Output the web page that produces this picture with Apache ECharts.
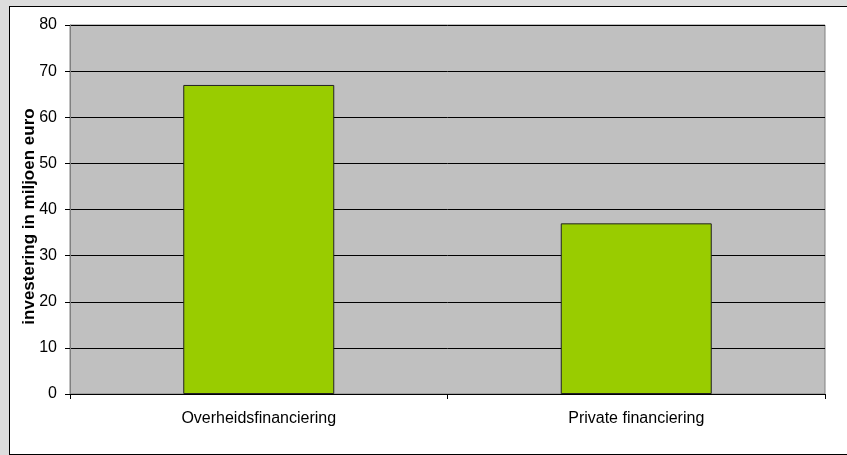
<!DOCTYPE html>
<html>
<head>
<meta charset="utf-8">
<script src="https://cdn.jsdelivr.net/npm/echarts@6/dist/echarts.min.js"></script>
<style>
  html, body { margin: 0; padding: 0; background: #dddddd; }
  #frame { position: absolute; left: 9px; top: 6px; width: 845px; height: 447px;
           background: #ffffff; border: 1px solid #000000; }
  #chart { position: absolute; left: 0; top: 0; width: 847px; height: 455px; }
</style>
</head>
<body>
<div id="frame"></div>
<div id="chart"></div>
<script>
const categories = ['Overheidsfinanciering', 'Private financiering'];
const investment = [67, 37];
const yTicks = [0, 10, 20, 30, 40, 50, 60, 70, 80];

const chart = echarts.init(document.getElementById('chart'), null, { renderer: 'canvas' });
const font = 'Liberation Sans, Arial, sans-serif';

chart.setOption({
  backgroundColor: 'transparent',
  animation: false,
  grid: {
    left: 70, right: 22, top: 25, bottom: 61,
    show: true, backgroundColor: '#c0c0c0', borderColor: '#808080', borderWidth: 1
  },
  xAxis: {
    type: 'category',
    data: categories,
    axisLine: { show: true, lineStyle: { color: '#000000', width: 1 } },
    axisTick: { show: true, alignWithLabel: false, length: 5, lineStyle: { color: '#000000' } },
    axisLabel: { color: '#000000', fontFamily: font, fontSize: 16, margin: 17 }
  },
  yAxis: {
    type: 'value',
    min: yTicks[0], max: yTicks[yTicks.length - 1], interval: 10,
    name: 'investering in miljoen euro',
    nameLocation: 'middle',
    nameGap: 32,
    nameMoveOverlap: false,
    nameTextStyle: {
      color: '#000000', fontFamily: font, fontSize: 17, fontWeight: 'bold',
      padding: [0, 14, 0, 0]
    },
    axisLine: { show: true, lineStyle: { color: '#808080', width: 1 } },
    axisTick: { show: true, length: 5, lineStyle: { color: '#000000' } },
    axisLabel: { color: '#000000', fontFamily: font, fontSize: 16, margin: 13 },
    splitLine: { show: true, lineStyle: { color: '#000000', width: 1 } }
  },
  series: [{
    type: 'bar',
    data: investment,
    barWidth: '40%',
    itemStyle: { color: '#99cc00', borderColor: '#222222', borderWidth: 1 }
  }]
});
</script>
</body>
</html>
